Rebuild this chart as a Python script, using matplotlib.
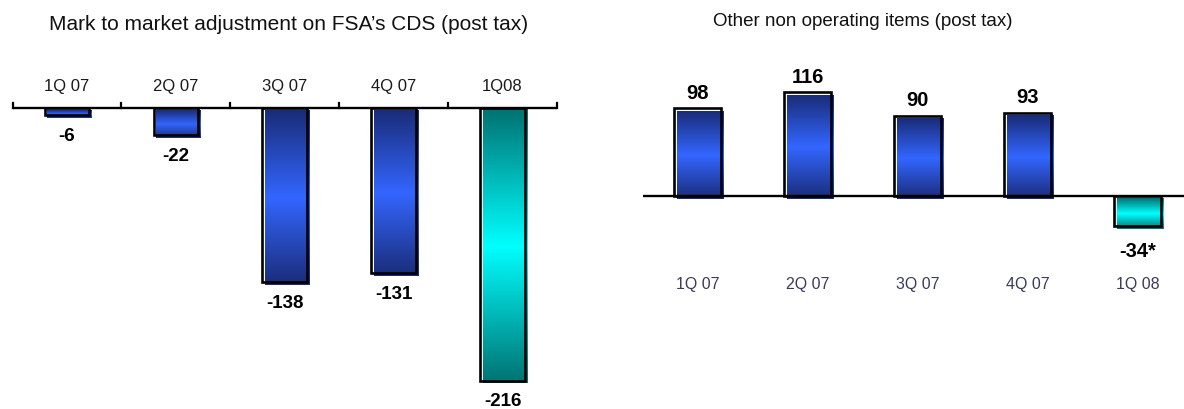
import numpy as np
import matplotlib
matplotlib.use("Agg")
import matplotlib.pyplot as plt
from matplotlib.colors import LinearSegmentedColormap

# ---- data ----
quarters = ["1Q 07", "2Q 07", "3Q 07", "4Q 07", "1Q 08"]
left_quarters = ["1Q 07", "2Q 07", "3Q 07", "4Q 07", "1Q08"]
mtm_values = [-6, -22, -138, -131, -216]
other_values = [98, 116, 90, 93, -34]
other_labels = ["98", "116", "90", "93", "-34*"]
left_title = "Mark to market adjustment on FSA\u2019s CDS (post tax)"
right_title = "Other non operating items (post tax)"
highlight = [False, False, False, False, True]

W, H = 1184, 409
DPI = 100

plt.rcParams["font.family"] = ["Liberation Sans", "DejaVu Sans"]

blue_cmap = LinearSegmentedColormap.from_list("b", ["#1a2c78", "#3366ff", "#1a2c78"])
cyan_cmap = LinearSegmentedColormap.from_list("c", ["#007272", "#00ffff", "#007272"])
grad = np.linspace(0, 1, 256).reshape(-1, 1)

fig = plt.figure(figsize=(W / DPI, H / DPI), dpi=DPI)


def make_axes(x0_px, x1_px, zero_px, px_per_unit):
    ax = fig.add_axes([x0_px / W, 0, (x1_px - x0_px) / W, 1])
    ax.set_axis_off()
    top = zero_px / px_per_unit
    bottom = -(H - zero_px) / px_per_unit
    return ax, (top, bottom)


def draw_bars(ax, values, width, px_x, px_y, xlim, ylim):
    shift = 2.6
    dx = shift / px_x
    dy = -shift / px_y
    for i, v in enumerate(values):
        cmap = cyan_cmap if highlight[i] else blue_cmap
        x0, x1 = i - width / 2, i + width / 2
        y0, y1 = min(0, v), max(0, v)
        ax.imshow(grad, cmap=cmap, aspect="auto", interpolation="bilinear",
                  extent=[x0 + dx, x1 + dx, y0 + dy, y1 + dy], origin="upper",
                  zorder=2)
    ax.bar(range(len(values)), values, width=width, fill=False,
           edgecolor="black", linewidth=1.9, zorder=3)
    ax.set_xlim(*xlim)
    ax.set_ylim(ylim[1], ylim[0])


# ---- left chart ----
Lx0, Lx1 = 12.5, 557.0
Lzero, Lscale = 107.5, 1.265
Lpx_x = (Lx1 - Lx0) / len(quarters)
axL, (Ltop, Lbot) = make_axes(Lx0, Lx1, Lzero, Lscale)
draw_bars(axL, mtm_values, 0.41, Lpx_x, Lscale, (-0.5, len(quarters) - 0.5), (Ltop, Lbot))
axL.plot([-0.5, len(quarters) - 0.5], [0, 0], color="black", lw=1.7, zorder=4,
         clip_on=False, solid_capstyle="butt")
for b in np.arange(len(quarters) + 1) - 0.5:
    axL.plot([b, b], [0, 5 / Lscale], color="black", lw=1.6, zorder=4, clip_on=False)
for i, (q, v) in enumerate(zip(left_quarters, mtm_values)):
    axL.text(i, 21 / Lscale, q, ha="center", va="center", fontsize=12, color="#1a1a1a")
    axL.annotate(str(v), (i, v), xytext=(0, -21 * 0.72), textcoords="offset points",
                 ha="center", va="center", fontsize=13.5, fontweight="bold",
                 color="black", annotation_clip=False)

# ---- right chart ----
Rx0, Rx1 = 642.7, 1184.0
Rzero, Rscale = 196.0, 0.894
Rpx_x = 110.0
xmaxR = -0.5 + (Rx1 - Rx0) / Rpx_x
axR, (Rtop, Rbot) = make_axes(Rx0, Rx1, Rzero, Rscale)
draw_bars(axR, other_values, 0.427, Rpx_x, Rscale, (-0.5, xmaxR), (Rtop, Rbot))
axR.plot([-0.5, xmaxR], [0, 0], color="black", lw=1.7, zorder=4, clip_on=False,
         solid_capstyle="butt")
for i, (q, v, lab) in enumerate(zip(quarters, other_values, other_labels)):
    axR.text(i, -89 / Rscale, q, ha="center", va="center", fontsize=11.5, color="#3a3a5c")
    off = 15 if v >= 0 else -25
    axR.annotate(lab, (i, v), xytext=(0, off * 0.72), textcoords="offset points",
                 ha="center", va="center", fontsize=14.5, fontweight="bold",
                 color="black", annotation_clip=False)

# ---- titles ----
fig.text(289 / W, 1 - 25 / H, left_title, ha="center", va="center",
         fontsize=15, color="#111111")
fig.text(863 / W, 1 - 21 / H, right_title, ha="center", va="center",
         fontsize=13.5, color="#111111")

fig.savefig("out.png", dpi=DPI)
